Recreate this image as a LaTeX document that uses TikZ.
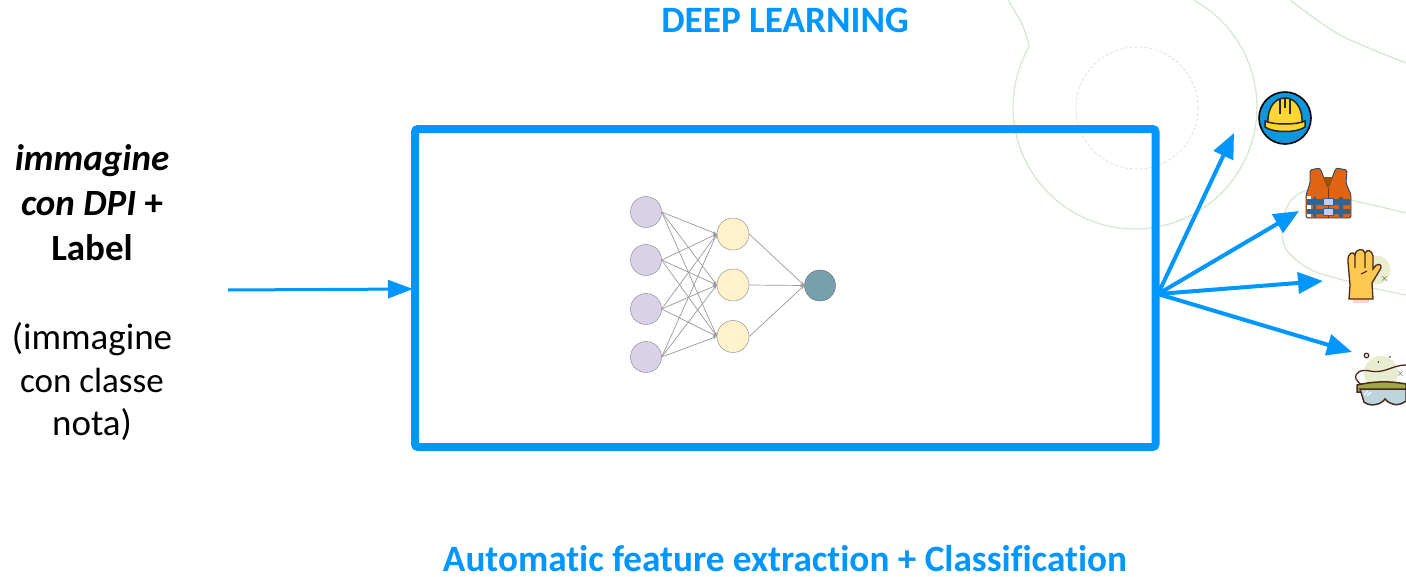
\documentclass[tikz,border=0pt]{standalone}
\usepackage{fontspec}
\setmainfont[Ligatures=NoCommon]{Carlito}
\usetikzlibrary{arrows.meta}
\definecolor{dlblue}{HTML}{0096FF}
\definecolor{bgline}{HTML}{D5E6D0}
\definecolor{iconline}{HTML}{4A2A20}
\definecolor{paleblob}{HTML}{E8EDD0}
\definecolor{inpurple}{HTML}{D9D2E6}
\definecolor{hidyellow}{HTML}{FFF2CC}
\definecolor{outteal}{HTML}{76A0AE}
\definecolor{helmetyellow}{HTML}{FFD633}
\definecolor{helmetblue}{HTML}{0F96DC}
\definecolor{vestorange}{HTML}{E06412}
\definecolor{vestblue}{HTML}{2F6497}
\definecolor{gloveyellow}{HTML}{FFC850}
\definecolor{lensblue}{HTML}{BAD6DC}
\definecolor{gogglegreen}{HTML}{A0A848}
\tikzset{
  inunit/.style={circle,draw=black!50,fill=inpurple,minimum size=31pt,inner sep=0pt},
  hidunit/.style={circle,draw=black!50,fill=hidyellow,minimum size=32pt,inner sep=0pt},
  outunit/.style={circle,draw=black!60,fill=outteal,minimum size=31pt,inner sep=0pt},
  netedge/.style={draw=black!40,line width=0.7pt,-{Stealth[length=4pt,width=3pt]}},
  bluearrow/.style={draw=dlblue,line width=4pt,-{Triangle[length=25pt,width=21pt]}},
  bigtext/.style={font=\fontsize{37}{44}\selectfont,align=center,text=black},
  titletext/.style={font=\fontsize{37.2}{38}\selectfont\bfseries,text=dlblue,inner sep=0pt}
}
\begin{document}
\begin{tikzpicture}[x=1pt,y=-1pt]
  \useasboundingbox (0,0) rectangle (1406,576);
  % faint background
  \draw[bgline,line width=1.2pt] plot[smooth] coordinates {(1008,0) (1022,24) (1029,45)};
  \draw[bgline,line width=1.2pt,domain=210:-61,samples=60,variable=\t] plot ({1135+122*cos(\t)},{107+122*sin(\t)});
  \draw[bgline,line width=1.2pt] plot[smooth] coordinates {(1290,0) (1340,35) (1406,63)};
  \draw[bgline,line width=1.2pt] plot[smooth,tension=0.8] coordinates {(1406,213) (1340,198) (1300,193) (1282,230) (1300,263) (1350,282) (1406,295)};
  \draw[black!18,line width=0.5pt,densely dashed] (1137,108) circle (61);
  % titles
  \node[titletext] (title) at (785,20) {DEEP LEARNING};
  \node[titletext,anchor=base] (subtitle) at (785,571) {Automatic feature extraction + Classification};
  \node[bigtext,font=\fontsize{37}{45}\selectfont] (inlabel) at (92,203) {\textbf{\textit{immagine}}\\\textbf{\textit{con DPI} +}\\\textbf{Label}};
  \node[bigtext,font=\fontsize{37}{43}\selectfont] (innote) at (92,382) {(immagine\\\fontsize{35}{43}\selectfont con classe\\nota)};
  % box and arrows
  \node[draw=dlblue,line width=8pt,rounded corners=3pt,minimum width=740.5pt,minimum height=318pt,inner sep=0pt] (dlbox) at (785.3,288) {};
  \coordinate (instart) at (228,290);
  \coordinate (inend) at (413,289);
  \coordinate (hub) at (1158,294);
  \coordinate (tohelmet) at (1234,133);
  \coordinate (tovest) at (1299,211);
  \coordinate (toglove) at (1323,281);
  \coordinate (togoggles) at (1352,352);
  \draw[bluearrow,line width=3pt,-{Triangle[length=25pt,width=18pt]}] (instart) -- (inend);
  \foreach \t in {tohelmet,tovest,toglove,togoggles}
    \draw[bluearrow] (hub) -- (\t);
  % net
  \foreach \i/\yy in {1/212,2/260,3/309,4/357}
    \node[inunit] (in\i) at (646,\yy) {};
  \foreach \j/\yy in {1/234,2/285,3/336.5}
    \node[hidunit] (hid\j) at (733,\yy) {};
  \node[outunit] (out) at (820,285.5) {};
  \foreach \i in {1,...,4}
    \foreach \j in {1,2,3}
      \draw[netedge] (in\i.east) -- (hid\j.west);
  \foreach \j in {1,2,3}
    \draw[netedge] (hid\j.east) -- (out.west);
  % helmet
  \begin{scope}[shift={(1285,118)}]
    \draw[black,line width=1.6pt,fill=helmetblue] (0,0) circle (26);
    \draw[black!85,line width=1.5pt,fill=helmetyellow] (-17,6) .. controls (-18,-12) and (-9,-20) .. (0,-20) .. controls (9,-20) and (18,-12) .. (17,6) -- cycle;
    \draw[black!85,line width=1.5pt,fill=helmetyellow] (-20,3) -- (-20,9) .. controls (-12,15) and (12,15) .. (20,9) -- (20,3) .. controls (12,7) and (-12,7) .. (-20,3) -- cycle;
    \draw[black!85,line width=1.3pt] (-5,-4) -- (-5,-19) (0,-10) -- (0,-20) (5,-4) -- (5,-19);
  \end{scope}
  % vest
  \draw[vestblue!70!black,line width=0.9pt,fill=vestorange,rounded corners=1.5pt] (1310,170) -- (1320,168) -- (1328,188) -- (1336,168) -- (1347,170) -- (1346,183) -- (1351,195) -- (1351,218) -- (1306,218) -- (1306,195) -- (1310,183) -- cycle;
  \fill[orange!60!black!85!vestorange] (1323,177) -- (1333,177) -- (1328,188) -- cycle;
  \draw[orange!45!black,line width=0.7pt] (1328,188) -- (1328,218);
  \fill[white] (1307,196) rectangle (1311,217);
  \fill[vestblue] (1307,199) rectangle (1350,205) (1307,209) rectangle (1350,214);
  \fill[vestblue] (1313,197) rectangle (1316,217) (1339,197) rectangle (1343,217);
  \draw[vestblue,fill=cyan!20!blue!20!white,line width=0.6pt] (1323,198) rectangle (1333,205) (1323,208) rectangle (1333,215);
  % glove
  \fill[paleblob] (1376,270) circle (14.5);
  \fill[orange!15!pink!60!white] (1353,299) rectangle (1369,303);
  \draw[iconline,line width=1.3pt,fill=gloveyellow] (1349,299) -- (1350,285) -- (1348,262) .. controls (1347,252) and (1354,251) .. (1355,255) .. controls (1356,248) and (1364,248) .. (1365,253) .. controls (1367,249) and (1372,250) .. (1373,256) -- (1373,269) .. controls (1376,263) and (1382,263) .. (1381,268) -- (1372,283) -- (1373,299) -- cycle;
  \draw[iconline,line width=1.1pt] (1355,255) -- (1355,268) (1365,253) -- (1365,268) (1361,274) -- (1367,271);
  \node[iconline,font=\fontsize{10}{10}\selectfont\bfseries,inner sep=0pt] (speck) at (1384.5,279) {$\times$};
  % goggles
  \fill[paleblob] (1381,373) circle (17);
  \draw[iconline,line width=1.2pt] (1366.5,355.5) circle (2.3);
  \fill[iconline] (1378.5,362) circle (0.9) (1390,357) circle (0.9);
  \node[iconline,font=\fontsize{10}{10}\selectfont\bfseries,inner sep=0pt] (dust) at (1400.5,374) {$\times$};
  \draw[iconline,line width=1.3pt] (1406,365) .. controls (1392,365) and (1385,374) .. (1370,371) .. controls (1362,369) and (1354,372) .. (1356,379) .. controls (1357,382) and (1360,383) .. (1362,385);
  \draw[iconline,line width=1.5pt,fill=gogglegreen] (1357,392) -- (1357,385) .. controls (1375,381) and (1390,381) .. (1406,384) -- (1406,392) -- cycle;
  \draw[iconline,line width=1.5pt,fill=lensblue] (1360,389) -- (1406,389) -- (1406,401) .. controls (1398,407) and (1390,405) .. (1385,399) .. controls (1381,405) and (1370,407) .. (1364,402) -- cycle;
  \draw[white,line width=1pt] (1364,395) -- (1368,391) (1367,396) -- (1371,392);
\end{tikzpicture}
\end{document}
